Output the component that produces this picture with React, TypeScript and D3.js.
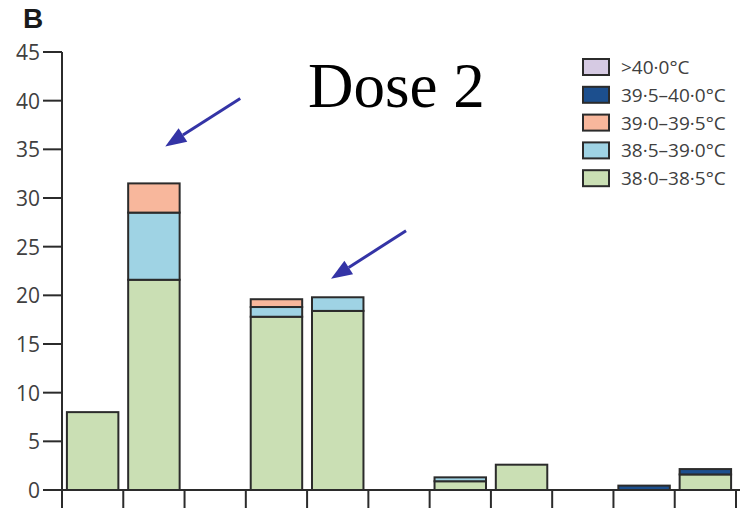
import React from "react";
import * as d3 from "d3";

// Fever grade groups along the x axis (unlabelled groups)
const categories = ["g1", "g2", "g3", "g4", "g5", "g6", "g7", "g8", "g9", "g10", "g11"];

// Temperature bands, stacked bottom to top
const seriesKeys = ["38.0–38.5", "38.5–39.0", "39.0–39.5", "39.5–40.0", ">40.0"];
const seriesLabels = ["38·0–38·5°C", "38·5–39·0°C", "39·0–39·5°C", "39·5–40·0°C", ">40·0°C"];
const seriesColors = ["#cadfb4", "#9fd3e4", "#f8b79c", "#1c4f8e", "#d6cae3"];

const band380 = [8, 21.6, 0, 17.8, 18.4, 0, 0.9, 2.6, 0, 0, 1.6];
const band385 = [0, 6.9, 0, 1.0, 1.4, 0, 0.4, 0, 0, 0, 0];
const band390 = [0, 3.0, 0, 0.8, 0, 0, 0, 0, 0, 0, 0];
const band395 = [0, 0, 0, 0, 0, 0, 0, 0, 0, 0.45, 0.55];
const band400 = [0, 0, 0, 0, 0, 0, 0, 0, 0, 0, 0];

const yTicks = [0, 5, 10, 15, 20, 25, 30, 35, 40, 45];

// Arrows pointing at groups: tip placed at a value above the group's bar
const arrows = [
  { cat: "g2", frac: 0.72, value: 35.3 },
  { cat: "g5", frac: 0.37, value: 21.7 },
];

const W = 746;
const H = 511;
const left = 62;
const right = 736;
const top = 52;
const bottom = 490;

const axisColor = "#2b2b2b";
const textColor = "#404040";
const sansFont = "'Open Sans', 'DejaVu Sans', sans-serif";

export default function App() {
  const x = d3
    .scaleBand<string>()
    .domain(categories)
    .range([left, right])
    .paddingInner(0.16)
    .paddingOuter(0.08);
  const y = d3.scaleLinear().domain([0, 45]).range([bottom, top]);
  const boundary = d3.scaleLinear().domain([0, categories.length]).range([left, right]);

  const table = categories.map((c, i) => ({
    cat: c,
    [seriesKeys[0]]: band380[i],
    [seriesKeys[1]]: band385[i],
    [seriesKeys[2]]: band390[i],
    [seriesKeys[3]]: band395[i],
    [seriesKeys[4]]: band400[i],
  }));
  const stacked = d3.stack<any>().keys(seriesKeys)(table);

  const legendX = 583;
  const legendY0 = 67;
  const legendStep = 27.8;
  const legendOrder = [4, 3, 2, 1, 0];

  const arrowColor = "#3434a6";

  return (
    <svg
      width={W}
      height={H}
      style={{ position: "absolute", left: 0, top: 0, background: "#fff" }}
    >
      {/* Panel letter */}
      <text
        x={23}
        y={28}
        fontFamily="'Liberation Sans Narrow', 'Liberation Sans', sans-serif"
        fontWeight="bold"
        fontSize={28}
        fill="#1a1a1a"
      >
        B
      </text>

      {/* Stacked bars */}
      {stacked.map((layer, li) =>
        layer.map((d, i) => {
          const h = y(d[0]) - y(d[1]);
          if (h <= 0) return null;
          return (
            <rect
              key={`${li}-${i}`}
              x={x(categories[i])}
              y={y(d[1])}
              width={x.bandwidth()}
              height={h}
              fill={seriesColors[li]}
              stroke={axisColor}
              strokeWidth={2}
            />
          );
        })
      )}

      {/* Y axis */}
      <line x1={left} x2={left} y1={top} y2={bottom} stroke={axisColor} strokeWidth={2} />
      {yTicks.map((t) => (
        <g key={t}>
          <line x1={43} x2={left} y1={y(t)} y2={y(t)} stroke={axisColor} strokeWidth={2} />
          <text
            x={40}
            y={y(t)}
            textAnchor="end"
            dominantBaseline="central"
            fontFamily={sansFont}
            fontSize={21}
            fill={textColor}
          >
            {t}
          </text>
        </g>
      ))}

      {/* X axis */}
      <line x1={43} x2={740} y1={bottom} y2={bottom} stroke={axisColor} strokeWidth={2} />
      {d3.range(categories.length + 1).map((i) => (
        <line
          key={i}
          x1={boundary(i)}
          x2={boundary(i)}
          y1={bottom}
          y2={508}
          stroke={axisColor}
          strokeWidth={2}
        />
      ))}

      {/* Legend */}
      {legendOrder.map((si, row) => {
        const cy = legendY0 + row * legendStep;
        return (
          <g key={si}>
            <rect
              x={legendX}
              y={cy - 8}
              width={26}
              height={16}
              fill={seriesColors[si]}
              stroke={axisColor}
              strokeWidth={2}
            />
            <text
              x={621}
              y={cy}
              dominantBaseline="central"
              fontFamily={sansFont}
              fontSize={19}
              fill={textColor}
            >
              {seriesLabels[si]}
            </text>
          </g>
        );
      })}

      {/* Annotation */}
      <text
        x={308}
        y={107}
        fontFamily="'Liberation Serif', 'Times New Roman', serif"
        fontSize={63}
        fill="#000"
      >
        Dose 2
      </text>
      {arrows.map((a, i) => {
        const tx = (x(a.cat) as number) + x.bandwidth() * a.frac;
        const ty = y(a.value);
        const sx = tx + 75;
        const sy = ty - 48;
        const ang = Math.atan2(ty - sy, tx - sx);
        const len = 21;
        const half = 8;
        const bx = tx - len * Math.cos(ang);
        const by = ty - len * Math.sin(ang);
        const px = -Math.sin(ang) * half;
        const py = Math.cos(ang) * half;
        return (
          <g key={i}>
            <line x1={sx} y1={sy} x2={bx} y2={by} stroke={arrowColor} strokeWidth={3} />
            <polygon
              points={`${tx},${ty} ${bx + px},${by + py} ${bx - px},${by - py}`}
              fill={arrowColor}
            />
          </g>
        );
      })}
    </svg>
  );
}
